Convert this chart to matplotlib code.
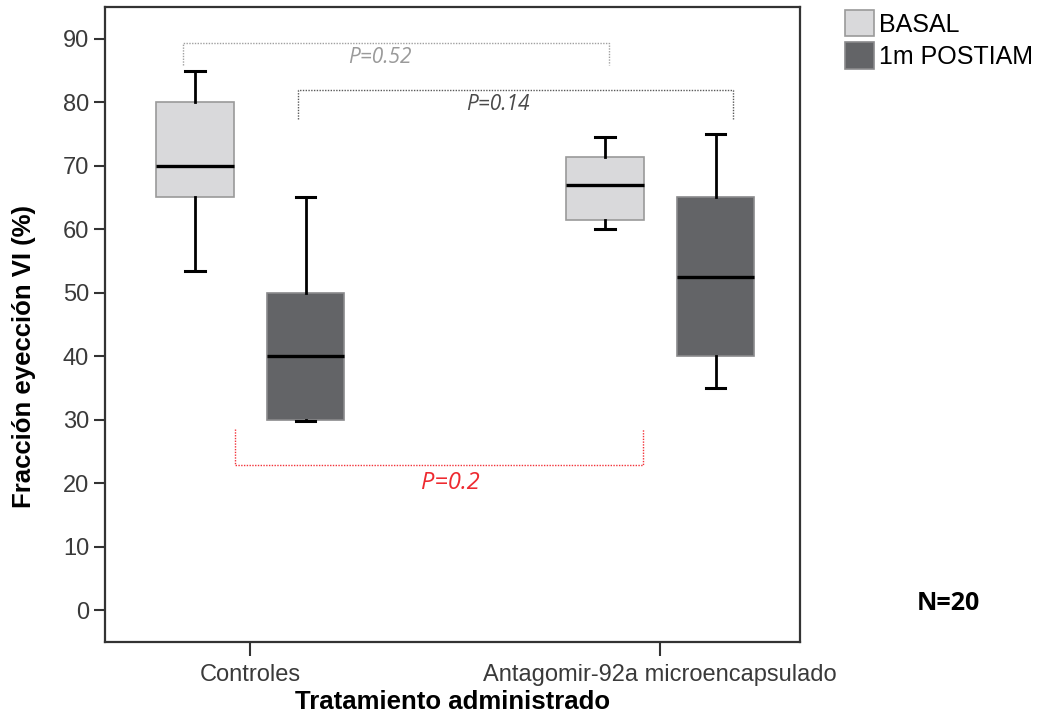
import matplotlib
matplotlib.use("Agg")
import matplotlib.pyplot as plt
from matplotlib.patches import Patch

plt.rcParams["font.family"] = ["Liberation Sans", "DejaVu Sans"]

# Data: five-number summaries of LV ejection fraction (%)
groups = ["Controles", "Antagomir-92a microencapsulado"]
series = ["BASAL", "1m POSTIAM"]
whisker_low = {"BASAL": [53.5, 60.0], "1m POSTIAM": [29.8, 35.0]}
q1 = {"BASAL": [65.0, 61.5], "1m POSTIAM": [30.0, 40.0]}
median = {"BASAL": [70.0, 67.0], "1m POSTIAM": [40.0, 52.5]}
q3 = {"BASAL": [80.0, 71.3], "1m POSTIAM": [50.0, 65.0]}
whisker_high = {"BASAL": [85.0, 74.5], "1m POSTIAM": [65.0, 75.0]}

p_labels = ["P=0.52", "P=0.14", "P=0.2"]
yticks = [0, 10, 20, 30, 40, 50, 60, 70, 80, 90]

fill_colors = {"BASAL": "#d9d9db", "1m POSTIAM": "#636467"}
edge_colors = {"BASAL": "#9a9a9a", "1m POSTIAM": "#8a8a8c"}
offsets = {"BASAL": -0.135, "1m POSTIAM": 0.135}

fig = plt.figure(figsize=(10.4, 7.2), dpi=100)
ax = fig.add_axes([105 / 1040, 78 / 720, 695 / 1040, 635 / 720])

for s in series:
    stats = []
    for i in range(len(groups)):
        stats.append(dict(med=median[s][i], q1=q1[s][i], q3=q3[s][i],
                          whislo=whisker_low[s][i], whishi=whisker_high[s][i],
                          fliers=[]))
    pos = [i + offsets[s] for i in range(len(groups))]
    ax.bxp(stats, positions=pos, widths=0.19, capwidths=0.048,
           patch_artist=True, showfliers=False, manage_ticks=False,
           boxprops=dict(facecolor=fill_colors[s], edgecolor=edge_colors[s], linewidth=1.2),
           medianprops=dict(color="black", linewidth=2.4, solid_capstyle="butt"),
           whiskerprops=dict(color="black", linewidth=2.0),
           capprops=dict(color="black", linewidth=2.2),
           zorder=3)

# Significance brackets
def bracket(x0, x1, y_bar, y_end, color, lw=1.0):
    ax.plot([x0, x0, x1, x1], [y_end, y_bar, y_bar, y_end], color=color,
            linestyle=(0, (1, 1)), linewidth=lw, zorder=2)

bracket(-0.163, 0.876, 89.4, 85.8, "#a0a0a0")
ax.text(0.317, 87.0, p_labels[0], color="#9a9a9a", fontsize=15, style="italic",
        family="Open Sans", ha="center", va="center")

bracket(0.117, 1.178, 81.9, 77.3, "#5a5a5a")
ax.text(0.605, 79.6, p_labels[1], color="#4a4a4a", fontsize=15, style="italic",
        family="Open Sans", ha="center", va="center")

bracket(-0.037, 0.959, 22.9, 28.5, "#f2333a")
ax.text(0.488, 20.0, p_labels[2], color="#ee2a30", fontsize=17, style="italic",
        family="Open Sans", ha="center", va="center")

ax.set_xlim(-0.354, 1.341)
ax.set_ylim(-5, 95)
ax.set_xticks(range(len(groups)))
ax.set_xticklabels(groups)
ax.set_yticks(yticks)
ax.tick_params(axis="both", direction="out", length=8, width=1.5, colors="#333333",
               labelcolor="#3a3a3a", labelsize=17)
ax.tick_params(axis="x", length=10, pad=6)
for sp in ax.spines.values():
    sp.set_color("#333333")
    sp.set_linewidth(1.6)

ax.set_ylabel("Fracción eyección VI (%)", fontsize=18.5, fontweight="bold")
ax.yaxis.set_label_coords(-0.1, 0.449)
ax.set_xlabel("Tratamiento administrado", fontsize=18.5, fontweight="bold", labelpad=3)

handles = [Patch(facecolor=fill_colors[s], edgecolor=edge_colors[s], linewidth=1.2) for s in series]
fig.legend(handles, series, loc="upper left", bbox_to_anchor=(845 / 1040, 1 - 10 / 720),
           frameon=False, fontsize=18, handlelength=1.15, handleheight=1.25,
           handletextpad=0.2, labelspacing=0.22, borderaxespad=0, borderpad=0)

fig.text(948 / 1040, 1 - 604 / 720, "N=20", fontsize=18, fontweight="bold",
         family="Open Sans", ha="center", va="center")

fig.savefig("out.png", dpi=100)
